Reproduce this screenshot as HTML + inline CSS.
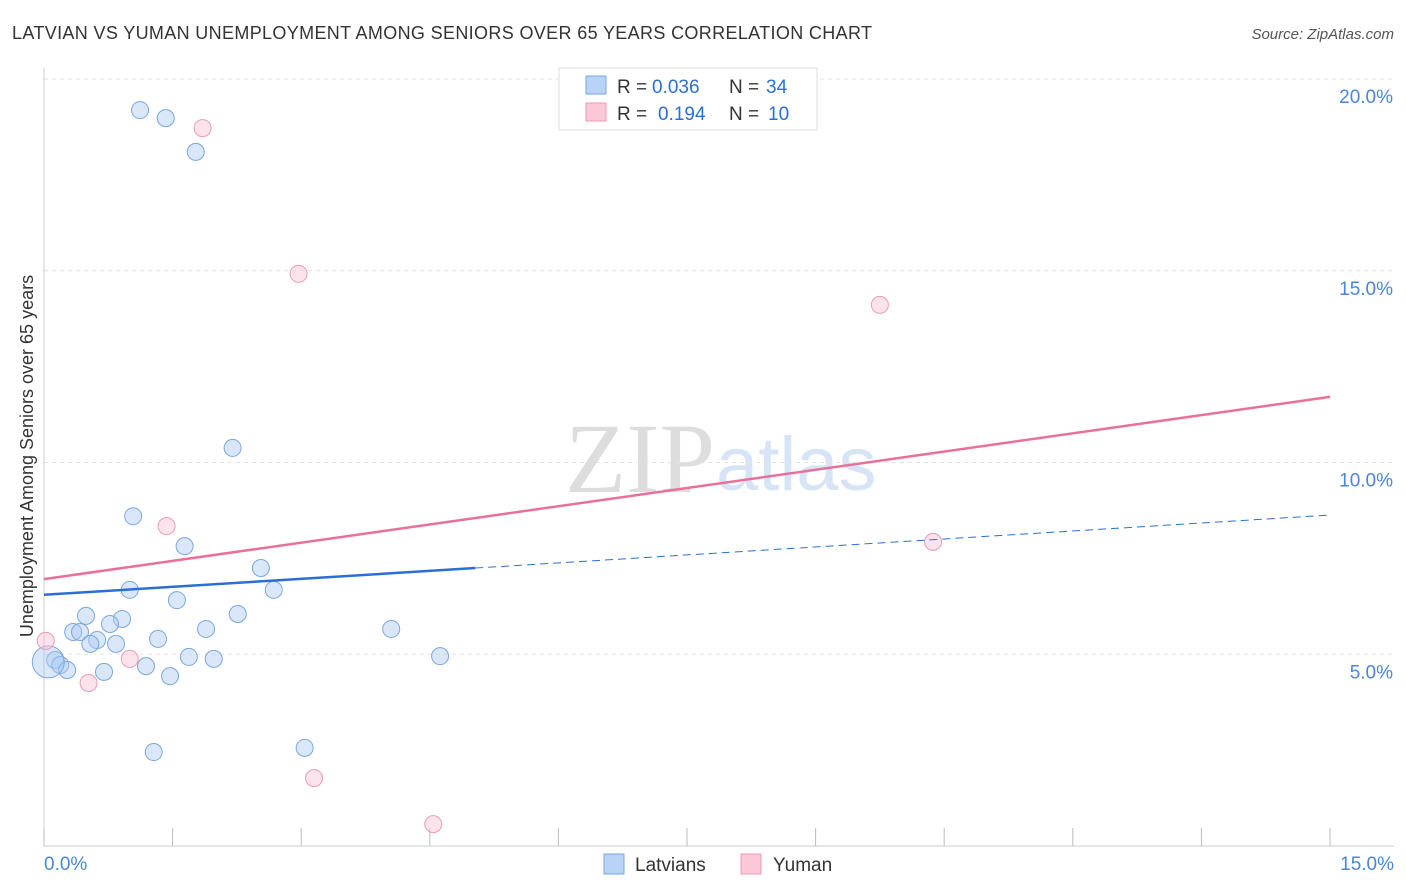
<!DOCTYPE html>
<html><head><meta charset="utf-8"><style>
body{margin:0;background:#fff;font-family:"Liberation Sans",sans-serif}
svg{display:block}
</style></head><body>
<svg id="c" width="1406" height="892">
<text x="12" y="39" font-size="18" fill="#333" textLength="860">LATVIAN VS YUMAN UNEMPLOYMENT AMONG SENIORS OVER 65 YEARS CORRELATION CHART</text>
<text x="1394" y="39" font-size="15" fill="#555" font-style="italic" text-anchor="end">Source: ZipAtlas.com</text>
<text x="715" y="492" font-size="100" fill="#ddd" text-anchor="end" font-family="Liberation Serif">ZIP</text>
<text x="716" y="490" font-size="76" fill="#d6e4f5">atlas</text>
<text transform="translate(33,456) rotate(-90)" font-size="18" fill="#333" text-anchor="middle">Unemployment Among Seniors over 65 years</text>
<g id="grid"></g><g id="marks"></g>
<g>
<rect x="559" y="68" width="258" height="62" fill="#fff" stroke="#ddd"/>
<rect x="586" y="76" width="20" height="18" fill="#b8d3f5" stroke="#7aa7e0"/>
<rect x="586" y="103" width="20" height="18" fill="#fbc8d7" stroke="#ee9ab4"/>
<text y="93" font-size="19" fill="#333"><tspan x="617">R =</tspan><tspan x="652" fill="#2a6fd6">0.036</tspan><tspan x="729">N =</tspan><tspan x="766" fill="#2a6fd6">34</tspan></text>
<text y="120" font-size="19" fill="#333"><tspan x="617">R =</tspan><tspan x="658" fill="#2a6fd6">0.194</tspan><tspan x="729">N =</tspan><tspan x="768" fill="#2a6fd6">10</tspan></text>
</g>
<g>
<rect x="604" y="854" width="20" height="20" fill="#b8d3f5" stroke="#7aa7e0"/>
<text x="635" y="871" font-size="19" fill="#333">Latvians</text>
<rect x="741" y="854" width="20" height="20" fill="#fbc8d7" stroke="#ee9ab4"/>
<text x="773" y="871" font-size="19" fill="#333">Yuman</text>
</g>
</svg>
<script>
const blueX=[1.12,1.42,1.77,2.20,1.04,1.64,2.53,1.00,2.68,1.55,0.49,2.26,0.91,0.77,0.34,0.42,1.89,4.05,0.62,1.33,0.84,0.54,1.69,1.98,4.62,0.13,0.19,1.19,0.27,0.70,1.47,1.28,3.04,0.05];
const blueY=[19.19,18.98,18.10,10.38,8.60,7.82,7.25,6.68,6.68,6.41,6.00,6.05,5.92,5.79,5.58,5.58,5.66,5.66,5.37,5.40,5.27,5.27,4.93,4.88,4.95,4.85,4.72,4.69,4.59,4.54,4.43,2.45,2.56,4.80];
const pinkX=[1.85,2.97,9.75,1.43,10.37,0.02,1.00,0.52,3.15,4.54];
const pinkY=[18.72,14.92,14.11,8.34,7.93,5.35,4.88,4.25,1.77,0.57];
const blueTrend=[6.55,8.63], blueSolidEnd=5.03;
const pinkTrend=[6.96,11.71];
const yTicks=[5,10,15,20];
const xTicks=[0,1.5,3,4.5,6,7.5,9,10.5,12,13.5,15];
const X=v=>44+v*(1286/15), Y=v=>846-v*38.35;
const NS='http://www.w3.org/2000/svg';
function mk(p,t,a){const e=document.createElementNS(NS,t);for(const k in a)e.setAttribute(k,a[k]);p.appendChild(e);return e;}
const g=document.getElementById('grid'),m=document.getElementById('marks');
yTicks.forEach(t=>{const l=mk(g,'line',{x1:44,x2:1394,y1:Y(t),y2:Y(t),stroke:'#e3e3e3','stroke-dasharray':'4,4'});


const tx=mk(g,'text',{x:1393,y:Y(t)+24,'font-size':19,fill:'#4a86d9','text-anchor':'end'});tx.textContent=t.toFixed(1)+'%';

});
mk(g,'line',{x1:44,x2:44,y1:68,y2:846,stroke:'#ccc'});
mk(g,'line',{x1:44,x2:1394,y1:846,y2:846,stroke:'#ccc'});
xTicks.forEach(t=>{const l=mk(g,'line',{x1:X(t),x2:X(t),y1:828,y2:846,stroke:'#bbb'});

});
const xl=mk(g,'text',{x:44,y:870,'font-size':19,fill:'#4a86d9'});xl.textContent='0.0%';


const xr=mk(g,'text',{x:1394,y:870,'font-size':19,fill:'#4a86d9','text-anchor':'end'});xr.textContent='15.0%';


blueX.forEach((x,i)=>{const c=mk(m,'circle',{cx:X(x),cy:Y(blueY[i]),r:i==33?16:8.5,fill:'rgba(170,202,242,0.45)',stroke:'#7aa7e0','stroke-width':1});

});
pinkX.forEach((x,i)=>{const c=mk(m,'circle',{cx:X(x),cy:Y(pinkY[i]),r:8.5,fill:'rgba(250,195,212,0.45)',stroke:'#ee9ab4','stroke-width':1});

});
const by=x=>blueTrend[0]+(blueTrend[1]-blueTrend[0])*x/15;
let l1=mk(m,'line',{x1:X(0),y1:Y(by(0)),x2:X(blueSolidEnd),y2:Y(by(blueSolidEnd)),stroke:'#2a6fd6','stroke-width':2.5});


let l2=mk(m,'line',{x1:X(blueSolidEnd),y1:Y(by(blueSolidEnd)),x2:X(14.98),y2:Y(by(14.98)),stroke:'#2a6fd6','stroke-width':1,'stroke-dasharray':'8,5'});


let l3=mk(m,'line',{x1:X(0),y1:Y(pinkTrend[0]),x2:X(15),y2:Y(pinkTrend[1]),stroke:'#e8709a','stroke-width':2.5});


</script>
</body></html>
